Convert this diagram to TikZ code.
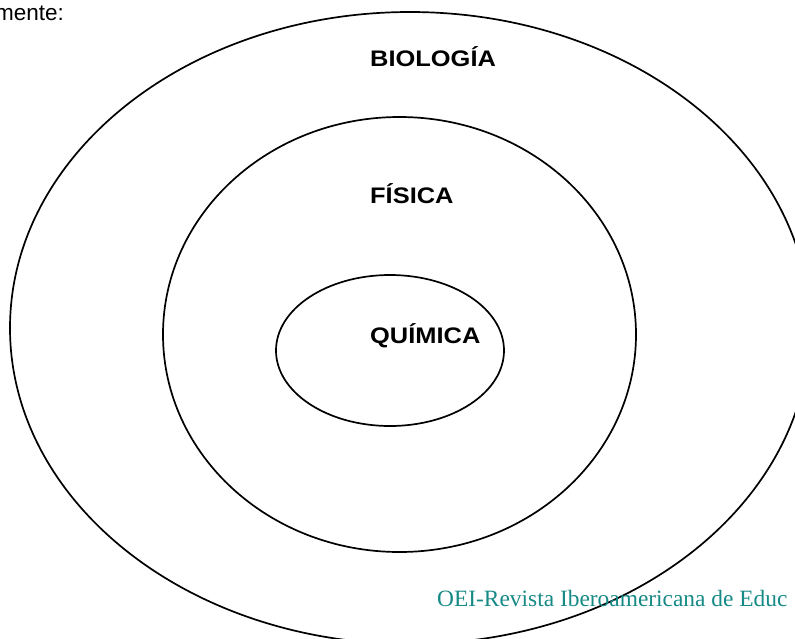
\documentclass[tikz,border=0pt]{standalone}
\usepackage{fontspec}
\setmainfont{Liberation Sans}
\newfontfamily\oeiserif{Liberation Serif}
\usetikzlibrary{shapes.geometric}
\definecolor{oeiteal}{RGB}{22,138,134}
\tikzset{
  ring/.style={ellipse, draw=black, line width=1.7pt, inner sep=0pt},
  subjlabel/.style={anchor=base west, inner sep=0pt, font=\fontsize{22.5}{26}\selectfont\bfseries},
  plaintext/.style={anchor=base west, inner sep=0pt}
}
\begin{document}
\begin{tikzpicture}[x=1pt,y=-1pt]
\useasboundingbox (0,0) rectangle (795,638);
\clip (0,0) rectangle (795,638);
\fill[white] (0,0) rectangle (795,638);
\node[ring, minimum width=800pt, minimum height=632pt] (outer) at (410,328) {};
\node[ring, minimum width=473pt, minimum height=435pt] (middle) at (399.5,334.5) {};
\node[ring, minimum width=228pt, minimum height=151pt] (inner) at (390,350.5) {};
\node[subjlabel] (bio) at (370,66.7) {\scalebox{1.13}[1]{BIOLOGÍA}};
\node[subjlabel] (fis) at (370,203.3) {\scalebox{1.13}[1]{FÍSICA}};
\node[subjlabel] (qui) at (370,343.3) {\scalebox{1.13}[1]{QUÍMICA}};
\node[plaintext, font=\fontsize{22.5}{26}\selectfont] (mente) at (-5,20.5) {mente:};
\node[plaintext, font=\fontsize{23.4}{27}\oeiserif, text=oeiteal] (oei) at (437,606) {OEI-Revista Iberoamericana de Educ};
\end{tikzpicture}
\end{document}
